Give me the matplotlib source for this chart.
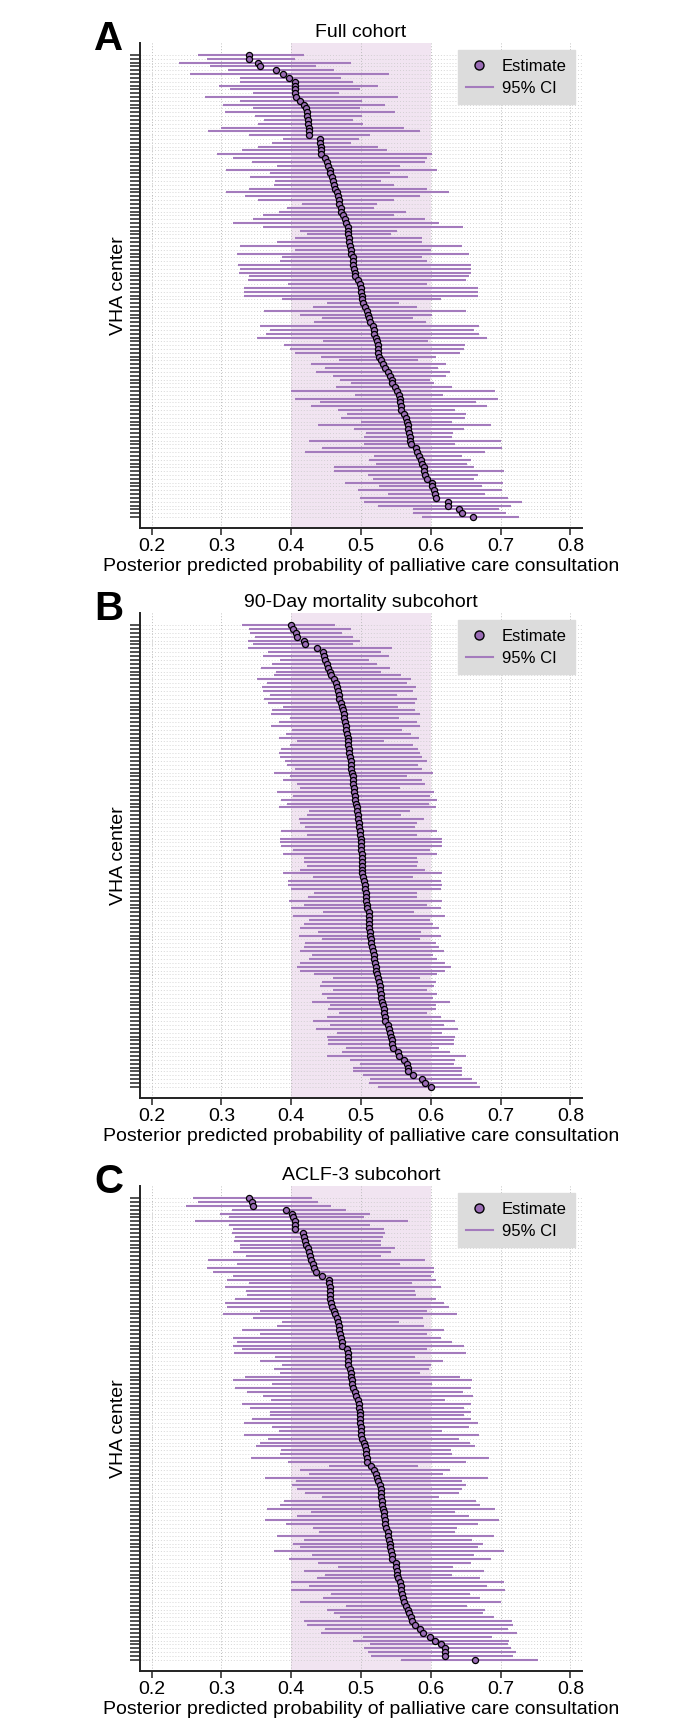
import numpy as np
import matplotlib
matplotlib.use('Agg')
import matplotlib.pyplot as plt
from matplotlib.lines import Line2D

plt.rcParams['font.family'] = ['Liberation Sans', 'DejaVu Sans']

# Panel A - Full cohort (centers sorted by estimate)
a_est = [.339, .340, .352, .355, .378, .388, .397, .405, .405, .406,
         .406, .407, .413, .418, .421, .422, .423, .424, .424, .425,
         .425, .426, .441, .441, .442, .442, .443, .449, .451, .453,
         .455, .456, .458, .460, .462, .463, .466, .467, .469, .469,
         .471, .472, .474, .477, .479, .481, .482, .482, .483, .483,
         .484, .485, .486, .488, .489, .489, .490, .491, .492,
         .495, .499, .500, .500, .501, .501, .503, .506, .508, .510,
         .511, .513, .517, .518, .519, .521, .523, .524, .525, .525,
         .526, .528, .531, .535, .538, .542, .544, .545, .549, .551,
         .555, .556, .556, .557, .558, .562, .564, .566, .567, .568,
         .569, .570, .570, .572, .579, .580, .583, .586, .588, .590,
         .590, .592, .594, .601, .602, .604, .606, .608, .624, .625,
         .640, .644, .660]
a_lo = [.267, .279, .240, .284, .309, .255, .327, .326, .296, .312,
        .346, .277, .327, .302, .346, .305, .348, .361, .352, .299,
        .281, .339, .388, .372, .353, .329, .294, .317, .344, .379,
        .307, .370, .341, .377, .375, .339, .307, .334, .353, .415,
        .394, .382, .360, .346, .316, .360, .413, .422, .406, .379,
        .327, .406, .322, .387, .384, .324, .327, .325, .339,
        .338, .396, .332, .332, .332, .387, .451, .431, .361, .412,
        .444, .432, .355, .369, .364, .351, .445, .390, .398, .405,
        .442, .469, .429, .449, .436, .460, .470, .485, .464, .400,
        .491, .405, .441, .428, .467, .480, .472, .500, .439, .490,
        .507, .505, .426, .505, .444, .420, .518, .512, .521, .462,
        .462, .510, .517, .477, .526, .495, .539, .498, .505, .525,
        .575, .575, .588]
a_hi = [.419, .406, .485, .435, .461, .540, .472, .489, .525, .499,
        .469, .553, .502, .535, .498, .548, .502, .488, .503, .562,
        .584, .513, .497, .486, .524, .537, .602, .595, .592, .556,
        .609, .542, .567, .528, .547, .594, .626, .584, .547, .523,
        .518, .565, .547, .591, .611, .646, .552, .543, .588, .588,
        .644, .600, .655, .588, .595, .658, .658, .658, .655,
        .651, .595, .668, .668, .668, .614, .555, .580, .651, .602,
        .575, .593, .669, .662, .669, .681, .596, .649, .647, .642,
        .607, .581, .622, .610, .627, .622, .599, .604, .630, .692,
        .618, .696, .665, .681, .634, .650, .649, .631, .686, .647,
        .632, .631, .701, .634, .702, .678, .644, .658, .652, .662,
        .705, .668, .662, .703, .674, .702, .678, .710, .730, .715,
        .698, .707, .726]

# Panel B - 90-Day mortality subcohort
b_est = [.400, .403, .407, .409, .418, .420, .437, .446, .447, .448,
         .451, .453, .456, .457, .461, .464, .466, .467, .468, .469,
         .471, .473, .474, .475, .476, .477, .478, .479, .480, .481,
         .481, .482, .483, .483, .484, .485, .485, .486, .487, .488,
         .489, .489, .490, .490, .491, .492, .493, .494, .494, .495,
         .496, .497, .497, .498, .499, .500, .500, .500, .500, .501,
         .501,
         .501, .501, .502, .502, .503, .505, .506, .506, .507, .507,
         .507, .508, .509, .511, .511, .511, .512, .512, .513, .513,
         .514, .515, .516, .517, .518, .519, .520, .521, .522, .523,
         .525, .526, .527, .527, .528, .529, .530, .532, .533, .533,
         .534, .535, .538, .540, .542, .543, .544, .545, .546, .553,
         .554, .561, .566, .567, .568, .575, .587, .591, .600]
b_lo = [.329, .339, .341, .348, .338, .346, .338, .367, .359, .384,
        .373, .357, .378, .375, .351, .366, .358, .360, .370, .361,
        .367, .389, .372, .371, .399, .382, .371, .401, .393, .382,
        .408, .399, .385, .382, .384, .391, .394, .406, .375, .399,
        .389, .408, .413, .379, .403, .386, .394, .383, .425, .422,
        .411, .413, .420, .386, .422, .384, .384, .386, .403, .389,
        .418,
        .419, .422, .412, .388, .431, .396, .395, .400, .432, .424,
        .397, .418, .400, .446, .403, .426, .419, .413, .438, .411,
        .444, .420, .418, .413, .430, .425, .412, .409, .413, .433,
        .460, .444, .441, .460, .444, .452, .430, .456, .453, .468,
        .452, .431, .456, .436, .465, .451, .453, .453, .479, .473,
        .452, .484, .499, .489, .488, .503, .513, .511, .524]
b_hi = [.463, .486, .473, .488, .498, .489, .544, .529, .540, .512,
        .523, .541, .529, .557, .572, .566, .579, .575, .552, .580,
        .577, .553, .578, .584, .554, .580, .585, .559, .572, .583,
        .533, .575, .582, .585, .588, .595, .581, .588, .603, .566,
        .588, .591, .556, .605, .599, .609, .597, .608, .570, .557,
        .590, .580, .578, .609, .580, .616, .616, .616, .599, .609,
        .580,
        .581, .580, .591, .616, .575, .614, .616, .614, .580, .580,
        .616, .595, .615, .576, .620, .599, .603, .611, .586, .615,
        .585, .607, .611, .619, .603, .609, .620, .629, .620, .609,
        .585, .607, .605, .595, .609, .603, .627, .608, .608, .595,
        .614, .635, .619, .639, .616, .634, .633, .633, .611, .627,
        .651, .635, .633, .645, .644, .644, .659, .666, .671]

# Panel C - ACLF-3 subcohort
c_est = [.339, .344, .346, .393, .401, .403, .405, .406, .406, .417,
         .419, .420, .421, .424, .426, .427, .429, .431, .433, .435,
         .444, .454, .454, .455, .455, .456, .456, .457, .458, .462,
         .463, .465, .467, .468, .469, .470, .471, .473, .473, .480,
         .481, .481, .482, .482, .484, .485, .486, .487, .487, .488,
         .492, .493, .495, .497, .497, .498, .498, .499, .499, .500,
         .500,
         .500, .501, .504, .506, .507, .507, .508, .509, .515, .518,
         .521, .523, .525, .527, .528, .529, .529, .530, .530, .531,
         .533, .533, .534, .535, .536, .538, .539, .540, .541, .542,
         .543, .544, .545, .550, .550, .551, .551, .553, .556, .557,
         .558, .559, .560, .562, .564, .567, .569, .571, .573, .577,
         .584, .589, .599, .606, .614, .621, .621, .621, .663]
c_lo = [.260, .267, .249, .315, .298, .311, .262, .311, .316, .315,
        .319, .318, .327, .327, .317, .336, .281, .322, .279, .288,
        .316, .308, .340, .305, .336, .337, .320, .305, .308, .356,
        .302, .346, .387, .379, .329, .355, .317, .322, .317, .329,
        .318, .377, .356, .387, .375, .384, .334, .317, .372, .320,
        .337, .359, .371, .329, .341, .370, .369, .344, .332, .372,
        .382,
        .333, .367, .355, .349, .385, .384, .343, .396, .454, .412,
        .426, .363, .407, .401, .409, .420, .444, .390, .384, .366,
        .428, .408, .363, .392, .431, .440, .380, .418, .403, .413,
        .375, .430, .397, .439, .467, .419, .449, .437, .400, .426,
        .400, .457, .445, .413, .479, .452, .461, .470, .418, .422,
        .449, .442, .503, .489, .513, .505, .510, .514, .557]
c_hi = [.430, .439, .457, .479, .513, .505, .567, .513, .533, .534,
        .532, .529, .528, .549, .543, .529, .591, .556, .604, .605,
        .600, .608, .573, .615, .577, .579, .607, .619, .626, .594,
        .638, .589, .554, .590, .619, .595, .614, .631, .647, .594,
        .650, .578, .617, .600, .597, .585, .642, .659, .602, .657,
        .646, .661, .621, .657, .647, .657, .647, .657, .667, .655,
        .616,
        .669, .640, .656, .663, .629, .631, .683, .650, .582, .628,
        .618, .682, .644, .651, .644, .640, .612, .665, .671, .692,
        .635, .654, .698, .668, .638, .635, .691, .659, .675, .667,
        .705, .662, .686, .657, .632, .676, .631, .670, .705, .680,
        .706, .656, .671, .701, .652, .677, .675, .690, .716, .718,
        .710, .724, .688, .712, .710, .715, .722, .718, .753]

panels = [
    ('A', 'Full cohort', a_est, a_lo, a_hi),
    ('B', '90-Day mortality subcohort', b_est, b_lo, b_hi),
    ('C', 'ACLF-3 subcohort', c_est, c_lo, c_hi),
]

line_col = '#a47bbd'
dot_col = '#9a6cb5'
W, H = 692, 1730
fig = plt.figure(figsize=(W / 100, H / 100), dpi=100)

# axes top / bottom in pixels from the top
boxes = [(43, 528), (613, 1098), (1186, 1671)]

for (letter, title, est, lo, hi), (top, bot) in zip(panels, boxes):
    ax = fig.add_axes([140 / W, 1 - bot / H, 442 / W, (bot - top) / H])
    n = len(est)
    y = np.arange(1, n + 1)
    per_px = (n - 1) / 462.0
    ax.set_ylim(n + 11 * per_px, 1 - 12 * per_px)
    ax.set_xlim(0.1835, 0.8165)

    ax.axvspan(0.4, 0.6, color='#f1e4f1', zorder=0, lw=0)
    ax.hlines(y, lo, hi, color=line_col, lw=1.5, zorder=2)
    ax.plot(est, y, 'o', ms=4.4, mfc=dot_col, mec='black', mew=0.9, zorder=3)

    ax.set_yticks(y)
    ax.set_yticklabels([])
    ax.set_xticks([0.2, 0.3, 0.4, 0.5, 0.6, 0.7, 0.8])
    ax.set_xticklabels(['0.2', '0.3', '0.4', '0.5', '0.6', '0.7', '0.8'])
    ax.tick_params(axis='y', length=7, width=1.1, color='#222222')
    ax.tick_params(axis='x', length=5, width=1.1, labelsize=14, pad=2, color='#222222')
    ax.grid(axis='y', linestyle=(0, (1, 2.5)), color='#c8c8c8', lw=0.6, zorder=1)
    ax.grid(axis='x', linestyle=(0, (1, 2)), color='#bbbbbb', lw=0.7, zorder=1)
    ax.set_axisbelow(True)

    for side in ['top', 'right']:
        ax.spines[side].set_visible(False)
    for side in ['left', 'bottom']:
        ax.spines[side].set_linewidth(1.4)
        ax.spines[side].set_color('#222222')

    ax.set_title(title, fontsize=14, pad=4)
    ax.set_xlabel('Posterior predicted probability of palliative care consultation',
                  fontsize=14, labelpad=2.5)
    ax.set_ylabel('VHA center', fontsize=14, labelpad=-1)

    handles = [
        Line2D([], [], marker='o', ls='', ms=6.5, mfc=dot_col, mec='black', mew=1, label='Estimate'),
        Line2D([], [], color=line_col, lw=1.5, label='95% CI'),
    ]
    leg = ax.legend(handles=handles, loc='upper right', bbox_to_anchor=(0.984, 0.985),
                    borderaxespad=0, fontsize=12, frameon=True, fancybox=False, framealpha=1,
                    facecolor='#dcdcdc', edgecolor='#dcdcdc', handlelength=1.6,
                    borderpad=0.5, labelspacing=0.45, handletextpad=0.55)
    leg.set_zorder(5)

    fig.text(94 / W, 1 - (top + 7) / H, letter, fontsize=29, fontweight='bold',
             ha='left', va='baseline')

fig.savefig('out.png', dpi=100)
